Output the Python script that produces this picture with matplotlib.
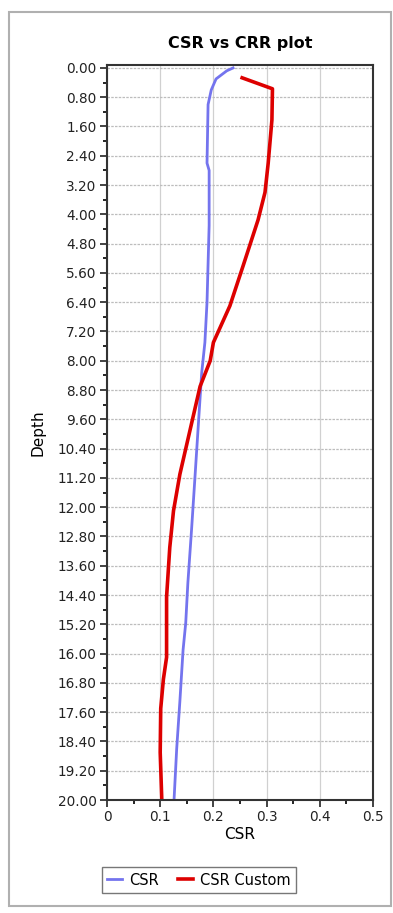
import numpy as np
import matplotlib
matplotlib.use("Agg")
import matplotlib.pyplot as plt
from matplotlib.patches import Rectangle
from matplotlib.ticker import MultipleLocator, FormatStrFormatter, FuncFormatter

# CSR curve
csr_depth = [0.0, 0.08, 0.3, 0.6, 1.0, 2.6, 2.8, 4.3, 6.4, 7.5, 8.33, 9.9, 11.26, 12.6, 14.07, 15.16, 15.9, 17.3, 18.6, 20.0]
csr_x = [0.237, 0.225, 0.205, 0.196, 0.190, 0.188, 0.192, 0.192, 0.188, 0.184, 0.178, 0.171, 0.165, 0.159, 0.152, 0.148, 0.143, 0.137, 0.131, 0.126]

# CSR Custom curve
custom_depth = [0.27, 0.57, 1.42, 2.6, 3.4, 4.15, 5.4, 6.5, 7.5, 8.0, 8.7, 9.9, 11.1, 12.1, 13.1, 14.45, 16.1, 16.7, 17.5, 18.7, 20.0]
custom_x = [0.254, 0.311, 0.310, 0.303, 0.297, 0.284, 0.256, 0.231, 0.200, 0.194, 0.175, 0.156, 0.137, 0.125, 0.118, 0.112, 0.112, 0.106, 0.101, 0.100, 0.103]

W, H = 393, 913
fig = plt.figure(figsize=(W / 100, H / 100), dpi=100)
fig.patch.set_facecolor("white")

# outer panel border
fig.patches.append(Rectangle((9 / W, 1 - 906 / H), 382 / W, 894 / H, transform=fig.transFigure,
                             fill=False, edgecolor="#b0b0b0", linewidth=1.5))

ax = fig.add_axes([107 / W, 1 - 800 / H, 266 / W, 735 / H])
ax.plot(csr_x, csr_depth, color="#7474ee", lw=2, label="CSR")
ax.plot(custom_x, custom_depth, color="#dd0000", lw=2.6, label="CSR Custom")

ax.set_xlim(0, 0.5)
ax.set_ylim(20, -0.08)
ax.xaxis.set_major_locator(MultipleLocator(0.1))
ax.xaxis.set_minor_locator(MultipleLocator(0.05))
ax.xaxis.set_major_formatter(FuncFormatter(lambda v, p: "0" if abs(v) < 1e-9 else "%.1f" % v))
ax.yaxis.set_major_locator(MultipleLocator(0.8))
ax.yaxis.set_minor_locator(MultipleLocator(0.4))
ax.yaxis.set_major_formatter(FormatStrFormatter("%.2f"))
ax.tick_params(which="major", length=5, width=1.2, labelsize=9.8, colors="#222222", pad=2.5)
ax.tick_params(which="minor", length=3, width=1.2)
ax.grid(True, which="major", axis="y", color="#bdbdbd", lw=0.9, linestyle=(0, (2, 1)))
ax.grid(True, which="major", axis="x", color="#d0d0d0", lw=0.9)
ax.set_axisbelow(True)
for s in ax.spines.values():
    s.set_linewidth(1.5)
    s.set_color("#333333")

ax.set_title("CSR vs CRR plot", fontsize=11.5, fontweight="bold", pad=12)
ax.set_xlabel("CSR", fontsize=11, labelpad=2)
ax.set_ylabel("Depth", fontsize=11, labelpad=9)

fig.legend(loc="center", bbox_to_anchor=(199 / W, 1 - 880 / H), ncol=2, fontsize=10.5,
           handlelength=1.0, columnspacing=1.3, handletextpad=0.5, fancybox=False,
           edgecolor="#777777", framealpha=1, borderpad=0.4, borderaxespad=0)

fig.savefig("out.png", dpi=100)
